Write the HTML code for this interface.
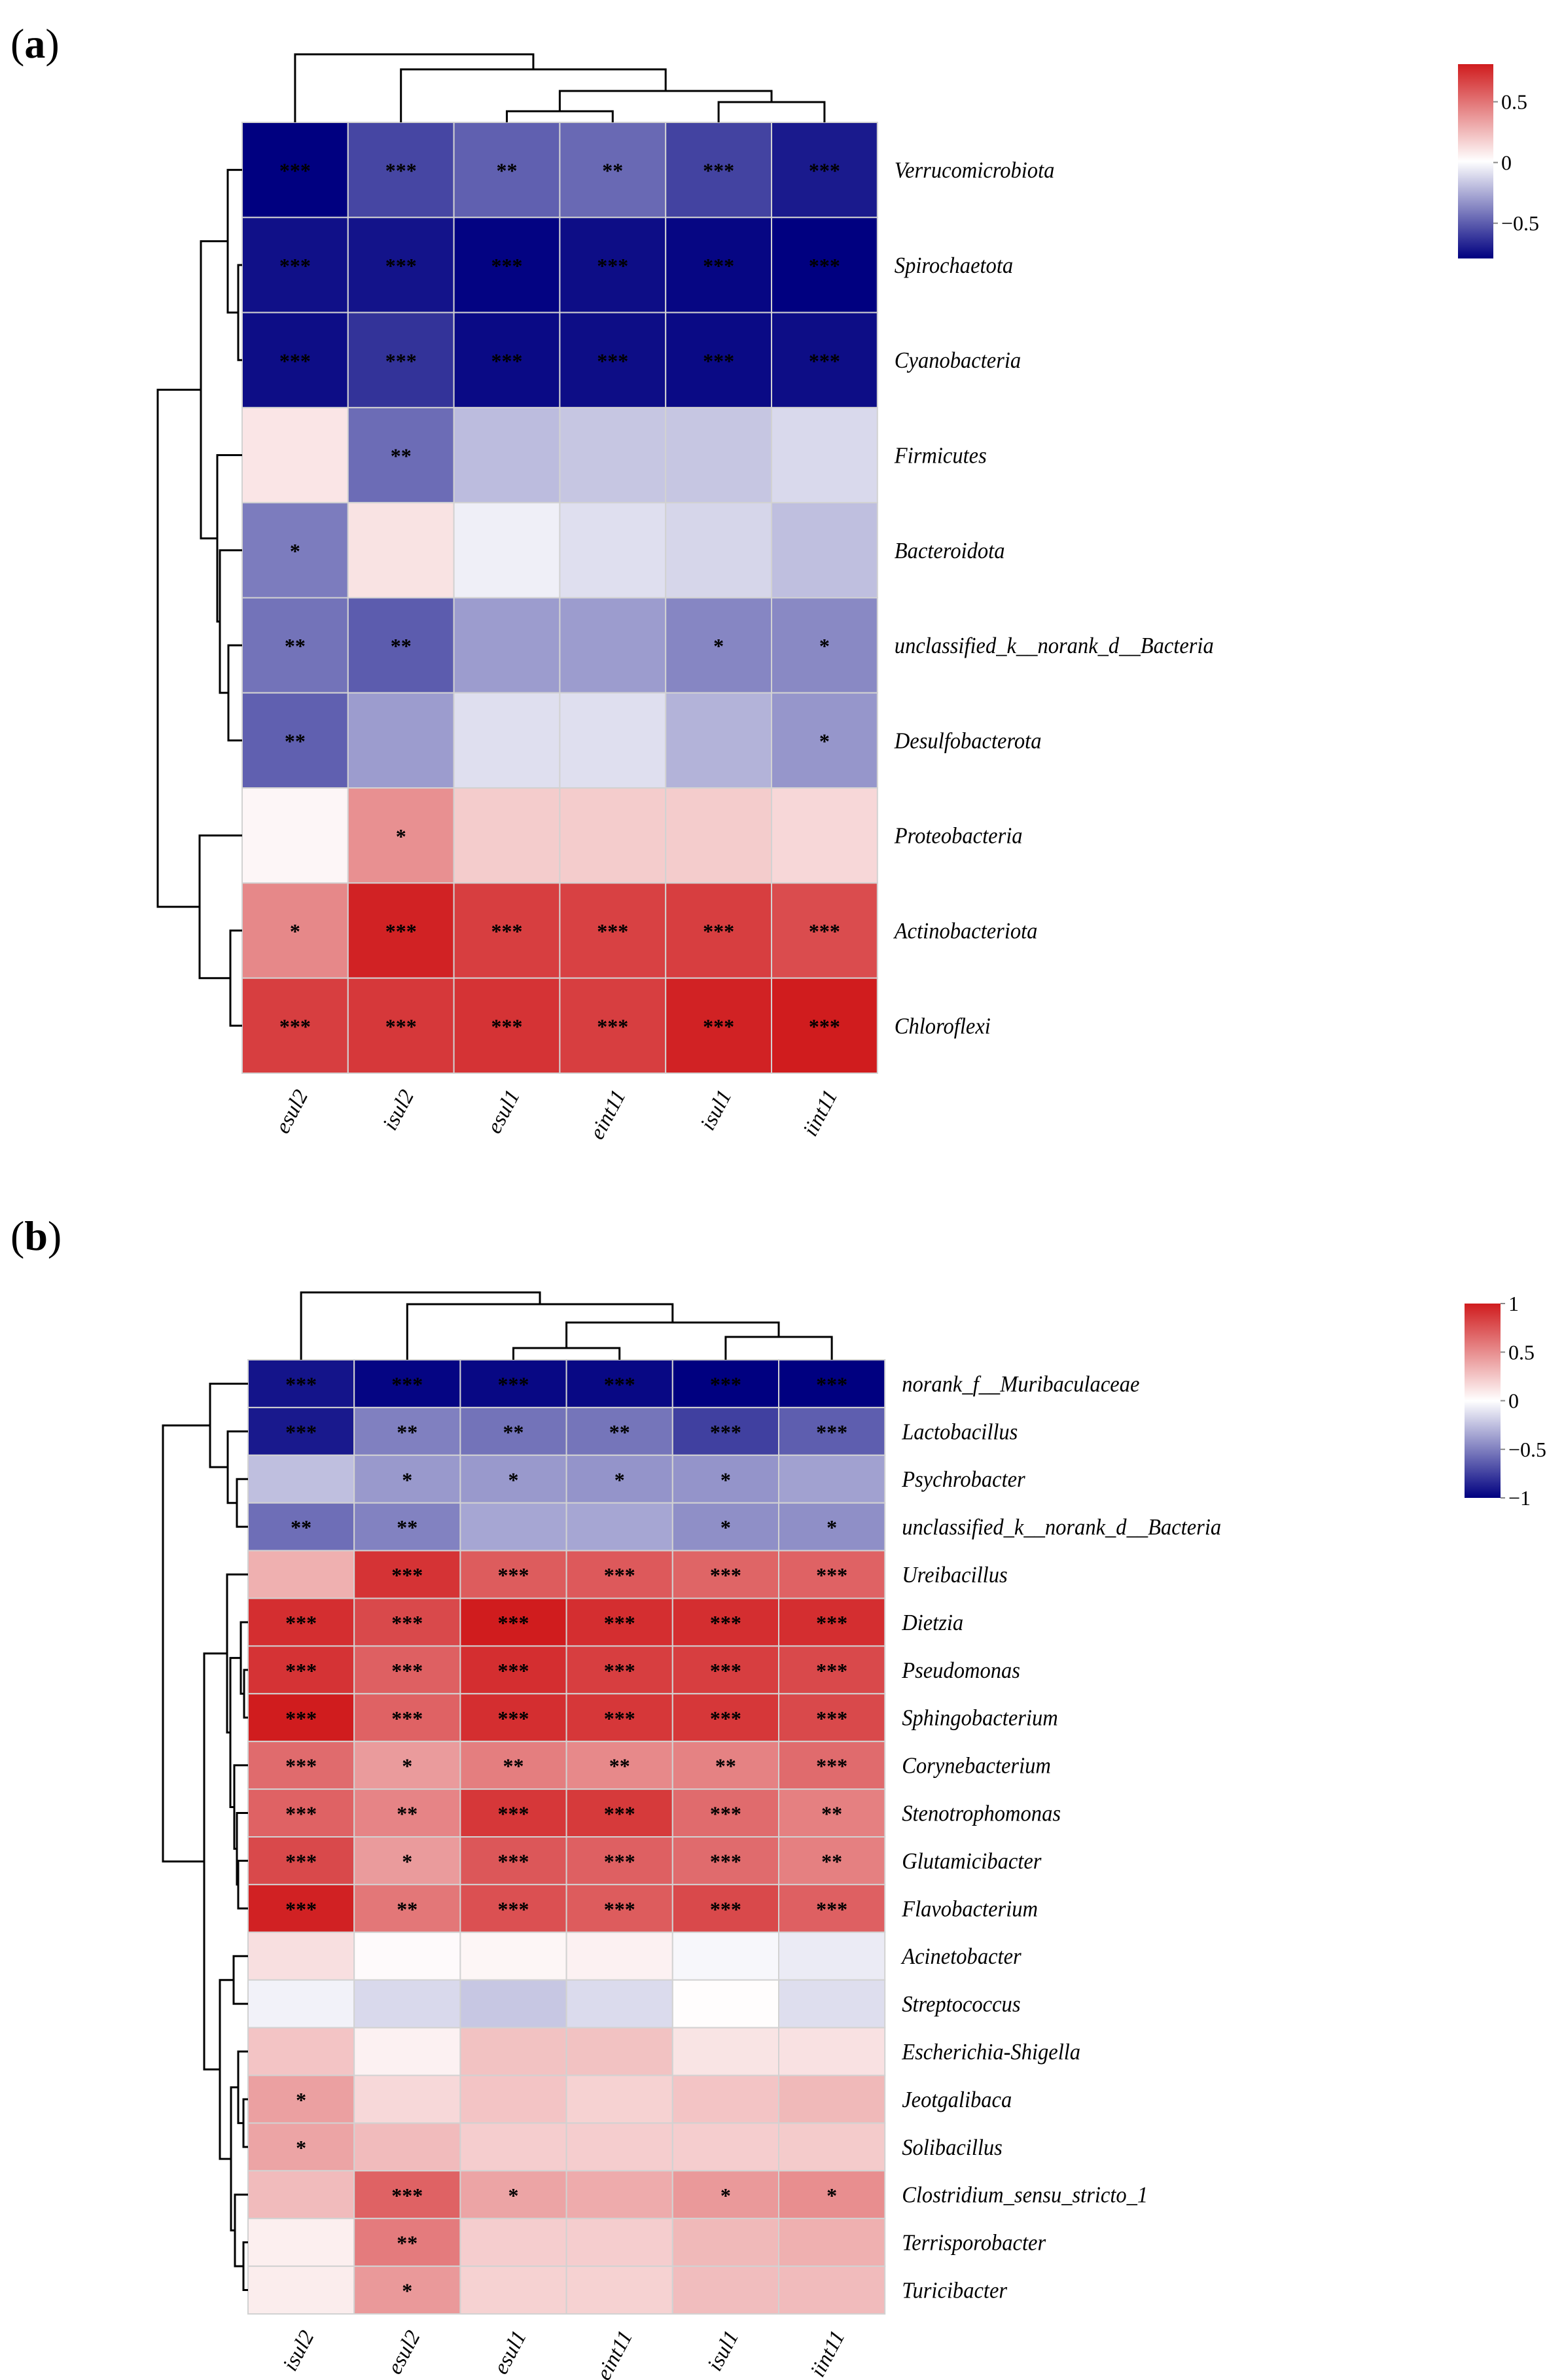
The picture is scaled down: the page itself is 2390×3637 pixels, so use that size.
<!DOCTYPE html>
<html><head><meta charset="utf-8"><style>
html,body{margin:0;padding:0;background:#fff;}
svg{display:block;}
text{font-family:"Liberation Serif",serif;}
</style></head><body>
<svg id="fig" width="2390" height="3637" viewBox="0 0 2390 3637" xmlns="http://www.w3.org/2000/svg">
<defs>
<linearGradient id="gradA" x1="0" y1="0" x2="0" y2="1">
<stop offset="0" stop-color="rgb(208,28,30)"/><stop offset="0.5" stop-color="#ffffff"/><stop offset="1" stop-color="rgb(0,0,128)"/>
</linearGradient>
</defs>
<text x="16" y="88" font-size="64">(<tspan font-weight="bold">a</tspan>)</text>
<text x="16" y="1910" font-size="64">(<tspan font-weight="bold">b</tspan>)</text>
<g id="panelA"></g>
<g id="panelB"></g>
</svg>
<script>
// ---------- Panel A data ----------
const colsA = ["esul2","isul2","esul1","eint11","isul1","iint11"];
const rowsA = ["Verrucomicrobiota","Spirochaetota","Cyanobacteria","Firmicutes","Bacteroidota","unclassified_k__norank_d__Bacteria","Desulfobacterota","Proteobacteria","Actinobacteriota","Chloroflexi"];
const valsA = [
[-0.80,-0.58,-0.50,-0.47,-0.59,-0.72],
[-0.75,-0.74,-0.79,-0.76,-0.78,-0.80],
[-0.76,-0.64,-0.77,-0.76,-0.77,-0.76],
[0.09,-0.46,-0.21,-0.18,-0.18,-0.12],
[-0.41,0.10,-0.05,-0.10,-0.13,-0.20],
[-0.44,-0.51,-0.31,-0.31,-0.38,-0.37],
[-0.50,-0.31,-0.10,-0.10,-0.24,-0.33],
[0.03,0.39,0.18,0.18,0.18,0.14],
[0.42,0.78,0.68,0.67,0.68,0.63],
[0.68,0.70,0.72,0.68,0.78,0.80]];
const starsA = [
["***","***","**","**","***","***"],
["***","***","***","***","***","***"],
["***","***","***","***","***","***"],
["","**","","","",""],
["*","","","","",""],
["**","**","","","*","*"],
["**","","","","","*"],
["","*","","","",""],
["*","***","***","***","***","***"],
["***","***","***","***","***","***"]];
const legendTicksA = [0.5,0,-0.5];
const legendLabelsA = ["0.5","0","\u22120.5"];
// ---------- Panel B data ----------
const colsB = ["isul2","esul2","esul1","eint11","isul1","iint11"];
const rowsB = ["norank_f__Muribaculaceae","Lactobacillus","Psychrobacter","unclassified_k__norank_d__Bacteria","Ureibacillus","Dietzia","Pseudomonas","Sphingobacterium","Corynebacterium","Stenotrophomonas","Glutamicibacter","Flavobacterium","Acinetobacter","Streptococcus","Escherichia-Shigella","Jeotgalibaca","Solibacillus","Clostridium_sensu_stricto_1","Terrisporobacter","Turicibacter"];
const valsB = [
[-0.92,-0.98,-0.97,-0.97,-1.00,-1.00],
[-0.90,-0.50,-0.55,-0.54,-0.75,-0.63],
[-0.25,-0.40,-0.40,-0.42,-0.42,-0.37],
[-0.57,-0.49,-0.35,-0.35,-0.44,-0.44],
[0.35,0.90,0.72,0.73,0.68,0.69],
[0.92,0.80,1.00,0.92,0.92,0.92],
[0.90,0.70,0.92,0.85,0.85,0.80],
[1.00,0.69,0.92,0.88,0.88,0.80],
[0.65,0.44,0.57,0.52,0.55,0.65],
[0.69,0.54,0.88,0.87,0.65,0.56],
[0.80,0.44,0.74,0.70,0.65,0.56],
[0.98,0.60,0.77,0.72,0.80,0.70],
[0.14,0.02,0.04,0.06,-0.03,-0.08],
[-0.05,-0.15,-0.22,-0.14,0.01,-0.13],
[0.26,0.06,0.27,0.27,0.12,0.13],
[0.42,0.17,0.26,0.20,0.26,0.31],
[0.40,0.30,0.22,0.22,0.22,0.23],
[0.30,0.69,0.40,0.37,0.45,0.50],
[0.07,0.58,0.22,0.22,0.31,0.35],
[0.08,0.45,0.20,0.20,0.29,0.30]];
const starsB = [
["***","***","***","***","***","***"],
["***","**","**","**","***","***"],
["","*","*","*","*",""],
["**","**","","","*","*"],
["","***","***","***","***","***"],
["***","***","***","***","***","***"],
["***","***","***","***","***","***"],
["***","***","***","***","***","***"],
["***","*","**","**","**","***"],
["***","**","***","***","***","**"],
["***","*","***","***","***","**"],
["***","**","***","***","***","***"],
["","","","","",""],
["","","","","",""],
["","","","","",""],
["*","","","","",""],
["*","","","","",""],
["","***","*","","*","*"],
["","**","","","",""],
["","*","","","",""]];
const legendTicksB = [1,0.5,0,-0.5,-1];
const legendLabelsB = ["1","0.5","0","\u22120.5","\u22121"];

const NS="http://www.w3.org/2000/svg";
function mk(tag, attrs, parent){const e=document.createElementNS(NS,tag);for(const k in attrs)e.setAttribute(k,attrs[k]);parent.appendChild(e);return e;}
function color(v, vmax){
  let t=Math.max(-1,Math.min(1,v/vmax));
  let r,g,b;
  if(t>=0){r=255+(208-255)*t;g=255+(28-255)*t;b=255+(30-255)*t;}
  else{const f=-t;r=255*(1-f);g=255*(1-f);b=255+(128-255)*f;}
  return `rgb(${Math.round(r)},${Math.round(g)},${Math.round(b)})`;
}
function drawPanel(cfg){
  const g=document.getElementById(cfg.id);
  const nR=cfg.rows.length,nC=cfg.cols.length;
  const xs=c=>cfg.x0+c*cfg.cw, ys=r=>cfg.y0+r*cfg.rh;
  for(let r=0;r<nR;r++){
    for(let c=0;c<nC;c++){
      const rect=mk('rect',{x:xs(c),y:ys(r),width:cfg.cw,height:cfg.rh,fill:color(cfg.vals[r][c],cfg.vmax),stroke:'#d2d2d2','stroke-width':2},g);
      
      
      if(cfg.stars[r][c]){
        const st=mk('text',{x:xs(c)+cfg.cw/2,y:ys(r)+cfg.rh/2+12,'font-size':32,'font-weight':'bold','text-anchor':'middle',fill:'#000'},g);
        st.textContent=cfg.stars[r][c];
        
        
      }
    }
    const lx=cfg.x0+nC*cfg.cw+26, lyy=ys(r)+cfg.rh/2+12;
    const lb=mk('text',{x:lx,y:lyy,'font-size':35,'font-style':'italic',fill:'#000',transform:`translate(${lx} 0) scale(0.93 1) translate(${-lx} 0)`},g);
    lb.textContent=cfg.rows[r];
    
    
  }
  const yb=cfg.y0+nR*cfg.rh;
  for(let c=0;c<nC;c++){
    const cx=xs(c)+cfg.cw/2, cy=yb+22;
    const t=mk('text',{x:cx,y:cy,'font-size':33,'font-style':'italic','text-anchor':'end',transform:`rotate(-62 ${cx} ${cy})`,fill:'#000'},g);
    t.setAttribute('dy','0.7em');
    t.textContent=cfg.cols[c];
    
    
  }
  const rowPos=i=>ys(i)+cfg.rh/2;
  function drawRow(node){
    if(typeof node==='number') return {p:rowPos(node),h:cfg.x0};
    const a=drawRow(node[0]),b=drawRow(node[1]),h=node[2];
    const pl=mk('polyline',{points:`${a.h},${a.p} ${h},${a.p} ${h},${b.p} ${b.h},${b.p}`,fill:'none',stroke:'#000','stroke-width':3},g);
    
    
    return {p:(a.p+b.p)/2,h:h};
  }
  drawRow(cfg.rowTree);
  const colPos=i=>xs(i)+cfg.cw/2;
  function drawCol(node){
    if(typeof node==='number') return {p:colPos(node),h:cfg.y0};
    const a=drawCol(node[0]),b=drawCol(node[1]),h=node[2];
    const pl=mk('polyline',{points:`${a.p},${a.h} ${a.p},${h} ${b.p},${h} ${b.p},${b.h}`,fill:'none',stroke:'#000','stroke-width':3},g);
    
    
    return {p:(a.p+b.p)/2,h:h};
  }
  drawCol(cfg.colTree);
  const L=cfg.leg;
  const lr=mk('rect',{x:L.x,y:L.y0,width:L.w,height:L.y1-L.y0,fill:'url(#gradA)'},g);
  
  
  const ly=v=>L.y0+(L.vtop-v)/(L.vtop-L.vbot)*(L.y1-L.y0);
  cfg.ticks.forEach((v,i)=>{
    const y=ly(v);
    const tk=mk('line',{x1:L.x+L.w,x2:L.x+L.w+7,y1:y,y2:y,stroke:'#888','stroke-width':2},g);
    
    
    const tt=mk('text',{x:L.x+L.w+12,y:y+11,'font-size':32,fill:'#000'},g);
    tt.textContent=cfg.tickLabels[i];
    
    
  });
}
drawPanel({id:'panelA',rows:rowsA,cols:colsA,vals:valsA,stars:starsA,vmax:0.8,
  x0:370,y0:187,cw:161.8,rh:145.3,
  rowTree:[[[0,[1,2,364],348],[3,[4,[5,6,349],336],332],307],[7,[8,9,352],305],241],
  colTree:[0,[1,[[2,3,170],[4,5,156],139],106],83],
  leg:{x:2228,w:54,y0:98,y1:395,vtop:0.81,vbot:-0.79},ticks:legendTicksA,tickLabels:legendLabelsA});
drawPanel({id:'panelB',rows:rowsB,cols:colsB,vals:valsB,stars:starsB,vmax:1.0,
  x0:379,y0:2078,cw:162.2,rh:72.9,
  rowTree:[[0,[1,[2,3,362],348],321],[[4,[[5,[6,7,373],368],[8,[9,[10,11,364],362],358],352],347],[[12,13,357],[[14,[15,16,372],364],[17,[18,19,372],359],353],336],312],249],
  colTree:[0,[1,[[2,3,2060],[4,5,2043],2021],1993],1975],
  leg:{x:2238,w:55,y0:1992,y1:2289,vtop:1,vbot:-1},ticks:legendTicksB,tickLabels:legendLabelsB});
</script>
</body></html>
